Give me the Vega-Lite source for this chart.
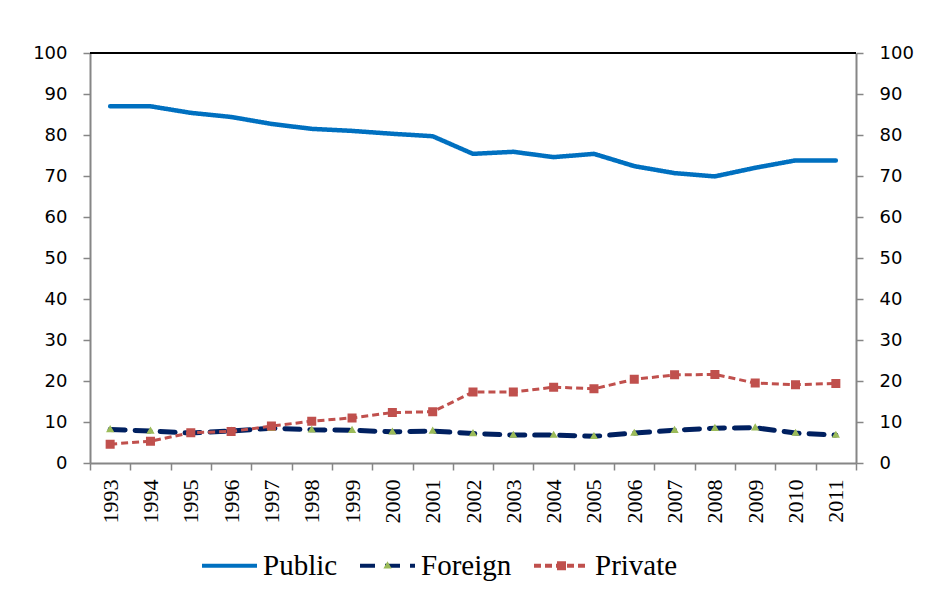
{
  "$schema": "https://vega.github.io/schema/vega-lite/v6.json",
  "width": 766,
  "height": 410,
  "autosize": {"type": "none"},
  "padding": {"left": 90, "top": 53, "right": 74, "bottom": 140},
  "background": "white",
  "config": {"view": {"stroke": null}},
  "data": {"values": [
    {"year": "1993", "series": "Public", "value": 87.0},
    {"year": "1994", "series": "Public", "value": 87.0},
    {"year": "1995", "series": "Public", "value": 85.4},
    {"year": "1996", "series": "Public", "value": 84.4},
    {"year": "1997", "series": "Public", "value": 82.7},
    {"year": "1998", "series": "Public", "value": 81.5},
    {"year": "1999", "series": "Public", "value": 81.0},
    {"year": "2000", "series": "Public", "value": 80.3},
    {"year": "2001", "series": "Public", "value": 79.7},
    {"year": "2002", "series": "Public", "value": 75.4},
    {"year": "2003", "series": "Public", "value": 75.9},
    {"year": "2004", "series": "Public", "value": 74.6},
    {"year": "2005", "series": "Public", "value": 75.4},
    {"year": "2006", "series": "Public", "value": 72.4},
    {"year": "2007", "series": "Public", "value": 70.7},
    {"year": "2008", "series": "Public", "value": 69.9},
    {"year": "2009", "series": "Public", "value": 72.0},
    {"year": "2010", "series": "Public", "value": 73.8},
    {"year": "2011", "series": "Public", "value": 73.8},
    {"year": "1993", "series": "Foreign", "value": 8.2},
    {"year": "1994", "series": "Foreign", "value": 7.8},
    {"year": "1995", "series": "Foreign", "value": 7.3},
    {"year": "1996", "series": "Foreign", "value": 7.8},
    {"year": "1997", "series": "Foreign", "value": 8.5},
    {"year": "1998", "series": "Foreign", "value": 8.1},
    {"year": "1999", "series": "Foreign", "value": 8.0},
    {"year": "2000", "series": "Foreign", "value": 7.6},
    {"year": "2001", "series": "Foreign", "value": 7.8},
    {"year": "2002", "series": "Foreign", "value": 7.2},
    {"year": "2003", "series": "Foreign", "value": 6.8},
    {"year": "2004", "series": "Foreign", "value": 6.8},
    {"year": "2005", "series": "Foreign", "value": 6.5},
    {"year": "2006", "series": "Foreign", "value": 7.3},
    {"year": "2007", "series": "Foreign", "value": 8.0},
    {"year": "2008", "series": "Foreign", "value": 8.5},
    {"year": "2009", "series": "Foreign", "value": 8.6},
    {"year": "2010", "series": "Foreign", "value": 7.3},
    {"year": "2011", "series": "Foreign", "value": 6.8},
    {"year": "1993", "series": "Private", "value": 4.6},
    {"year": "1994", "series": "Private", "value": 5.3},
    {"year": "1995", "series": "Private", "value": 7.4},
    {"year": "1996", "series": "Private", "value": 7.7},
    {"year": "1997", "series": "Private", "value": 9.0},
    {"year": "1998", "series": "Private", "value": 10.2},
    {"year": "1999", "series": "Private", "value": 11.0},
    {"year": "2000", "series": "Private", "value": 12.3},
    {"year": "2001", "series": "Private", "value": 12.5},
    {"year": "2002", "series": "Private", "value": 17.3},
    {"year": "2003", "series": "Private", "value": 17.3},
    {"year": "2004", "series": "Private", "value": 18.5},
    {"year": "2005", "series": "Private", "value": 18.1},
    {"year": "2006", "series": "Private", "value": 20.4},
    {"year": "2007", "series": "Private", "value": 21.5},
    {"year": "2008", "series": "Private", "value": 21.6},
    {"year": "2009", "series": "Private", "value": 19.5},
    {"year": "2010", "series": "Private", "value": 19.1},
    {"year": "2011", "series": "Private", "value": 19.4}
  ]},
  "encoding": {
    "x": {
      "field": "year", "type": "ordinal", "title": null,
      "scale": {"type": "band", "paddingInner": 0, "paddingOuter": 0},
      "axis": {
        "labelAngle": 270, "labelFont": "Liberation Serif", "labelFontSize": 22,
        "labelColor": "black", "labelPadding": 9, "tickSize": 7, "tickBand": "extent",
        "domainColor": "#868686", "domainWidth": 2, "tickColor": "#868686", "tickWidth": 1.5,
        "grid": false
      }
    }
  },
  "layer": [
    {
      "mark": {"type": "rule", "color": "black", "strokeWidth": 2},
      "encoding": {"y": {"datum": 100, "type": "quantitative", "axis": null, "scale": {"domain": [0, 100], "nice": false}}, "x": null}
    },
    {
      "transform": [{"filter": "datum.series === 'Public'"}],
      "mark": {"type": "line", "strokeWidth": 4.5, "strokeCap": "round", "strokeJoin": "round"},
      "encoding": {
        "y": {
          "field": "value", "type": "quantitative", "title": null,
          "scale": {"domain": [0, 100], "nice": false},
          "axis": {
            "orient": "left", "values": [0, 10, 20, 30, 40, 50, 60, 70, 80, 90, 100],
            "labelFont": "DejaVu Sans", "labelFontSize": 18, "labelColor": "black", "labelPadding": 16,
            "tickSize": 7, "domainColor": "#868686", "domainWidth": 2, "tickColor": "#868686", "tickWidth": 1.5,
            "grid": false
          }
        },
        "stroke": {
          "field": "series", "type": "nominal",
          "scale": {"domain": ["Public", "Foreign", "Private"], "range": ["#0070C0", "#002060", "#C0504D"]},
          "legend": {
            "orient": "none", "legendX": 110, "legendY": 483, "direction": "horizontal", "title": null,
            "symbolType": "stroke", "symbolSize": 3025, "symbolStrokeWidth": 4,
            "labelFont": "Liberation Serif", "labelFontSize": 29, "labelColor": "black",
            "labelOffset": 4, "columnPadding": 14
          }
        },
        "strokeDash": {
          "field": "series", "type": "nominal",
          "scale": {"domain": ["Public", "Foreign", "Private"], "range": [[1, 0], [15, 10], [7, 4]]},
          "legend": {
            "orient": "none", "legendX": 110, "legendY": 483, "direction": "horizontal", "title": null,
            "symbolType": "stroke", "symbolSize": 3025, "symbolStrokeWidth": 4,
            "labelFont": "Liberation Serif", "labelFontSize": 29, "labelColor": "black",
            "labelOffset": 4, "columnPadding": 14
          }
        }
      }
    },
    {
      "transform": [{"filter": "datum.series === 'Foreign'"}],
      "mark": {"type": "line", "strokeWidth": 5, "strokeCap": "round", "strokeJoin": "round"},
      "encoding": {
        "y": {"field": "value", "type": "quantitative", "title": null, "axis": null},
        "stroke": {"field": "series", "type": "nominal"},
        "strokeDash": {"field": "series", "type": "nominal"}
      }
    },
    {
      "transform": [{"filter": "datum.series === 'Private'"}],
      "mark": {"type": "line", "strokeWidth": 3, "strokeCap": "butt", "strokeJoin": "round"},
      "encoding": {
        "y": {"field": "value", "type": "quantitative", "title": null, "axis": null},
        "stroke": {"field": "series", "type": "nominal"},
        "strokeDash": {"field": "series", "type": "nominal"}
      }
    },
    {
      "mark": {"type": "point", "filled": true, "size": 3025, "opacity": 1, "strokeWidth": 0},
      "encoding": {
        "y": {
          "field": "value", "type": "quantitative", "title": null,
          "axis": {
            "orient": "right", "values": [0, 10, 20, 30, 40, 50, 60, 70, 80, 90, 100],
            "labelFont": "DejaVu Sans", "labelFontSize": 18, "labelColor": "black", "labelPadding": 16,
            "tickSize": 7, "domainColor": "#868686", "domainWidth": 2, "tickColor": "#868686", "tickWidth": 1.5,
            "grid": false
          }
        },
        "fill": {
          "field": "series", "type": "nominal",
          "scale": {"domain": ["Public", "Foreign", "Private", "none"], "range": ["transparent", "#9BBB59", "#C0504D", "transparent"]},
          "legend": {
            "orient": "none", "legendX": 110, "legendY": 483, "direction": "horizontal", "title": null,
            "values": ["Public", "Foreign", "Private"],
            "symbolSize": 3025, "symbolStrokeWidth": 4, "symbolStrokeColor": "transparent",
            "labelFont": "Liberation Serif", "labelFontSize": 29, "labelOpacity": 0,
            "labelOffset": 4, "columnPadding": 14
          }
        },
        "shape": {
          "field": "series", "type": "nominal",
          "scale": {"domain": ["Public", "Foreign", "Private", "none"], "range": [
            "M-1,0L-1,0M1,0L1,0",
            "M-1,0L-1,0M1,0L1,0M0,-0.16L0.15,0.1L-0.15,0.1Z",
            "M-1,0L-1,0M1,0L1,0M-0.164,-0.164L0.164,-0.164L0.164,0.164L-0.164,0.164Z",
            "circle"
          ]},
          "legend": {
            "orient": "none", "legendX": 110, "legendY": 483, "direction": "horizontal", "title": null,
            "values": ["Public", "Foreign", "Private"],
            "symbolSize": 3025, "symbolStrokeWidth": 4, "symbolStrokeColor": "transparent",
            "labelFont": "Liberation Serif", "labelFontSize": 29, "labelOpacity": 0,
            "labelOffset": 4, "columnPadding": 14
          }
        }
      }
    }
  ],
  "resolve": {"axis": {"y": "independent"}}
}
